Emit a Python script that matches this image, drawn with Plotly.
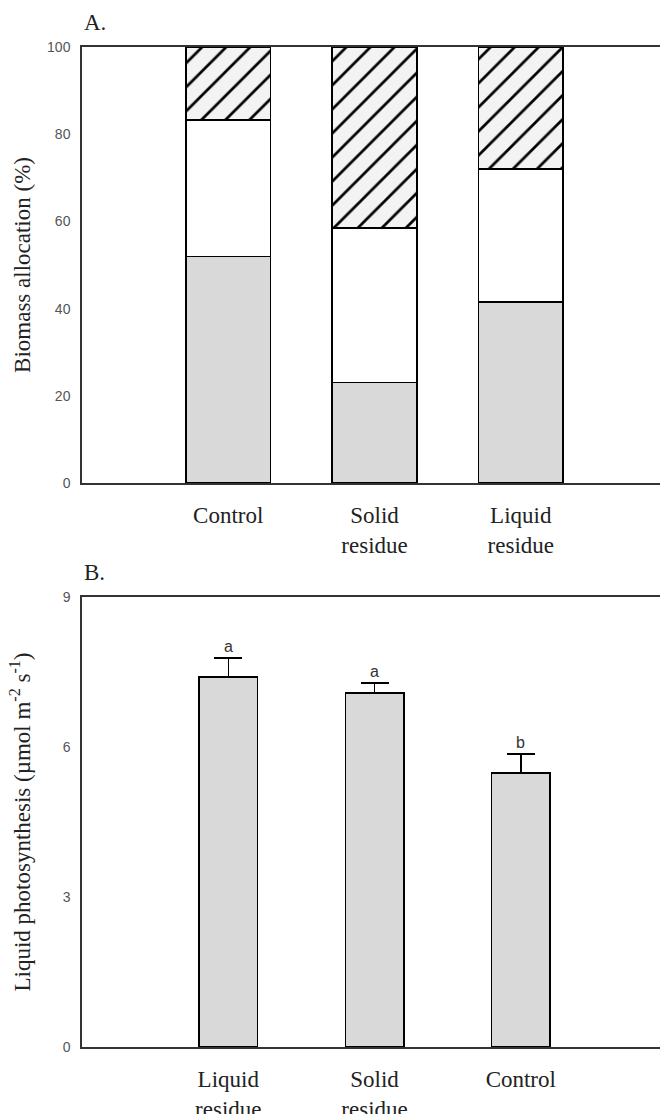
import plotly.graph_objects as go

# ---------------- data ----------------
# Panel A: biomass allocation (%)
alloc_categories = ["Control", "Solid<br>residue", "Liquid<br>residue"]
alloc_gray = [52.0, 23.0, 41.5]        # lower (grey) segment
alloc_white = [31.3, 35.5, 30.5]       # middle (white) segment
alloc_hatched = [16.7, 41.5, 28.0]     # upper (hatched) segment
alloc_ticks = [0, 20, 40, 60, 80, 100]

# Panel B: photosynthesis
photo_categories = ["Liquid<br>residue", "Solid<br>residue", "Control"]
photo_values = [7.40, 7.08, 5.48]
photo_errors = [0.38, 0.20, 0.38]
photo_letters = ["a", "a", "b"]
photo_ticks = [0, 3, 6, 9]

H = 1114.0
positions = [1, 2, 3]

serif = "Liberation Serif, Times New Roman, serif"
sans = "Liberation Sans, Arial, sans-serif"
line_col = "#333333"

fig = go.Figure()

# Panel A stacked bars
fig.add_trace(go.Bar(x=positions, y=alloc_gray, width=0.58, xaxis="x", yaxis="y",
                     marker=dict(color="#d9d9d9", line=dict(color="black", width=1.5)),
                     showlegend=False, hoverinfo="y"))
fig.add_trace(go.Bar(x=positions, y=alloc_white, width=0.58, xaxis="x", yaxis="y",
                     marker=dict(color="white", line=dict(color="black", width=1.5)),
                     showlegend=False, hoverinfo="y"))
fig.add_trace(go.Bar(x=positions, y=alloc_hatched, width=0.58, xaxis="x", yaxis="y",
                     marker=dict(color="#f3f3f3", line=dict(color="black", width=1.5),
                                 pattern=dict(shape="/", fgcolor="#000000", bgcolor="#f3f3f3",
                                              size=17, solidity=0.16, fgopacity=1)),
                     showlegend=False, hoverinfo="y"))

# Panel B bars with upward error bars
fig.add_trace(go.Bar(x=positions, y=photo_values, width=0.40, xaxis="x2", yaxis="y2",
                     marker=dict(color="#d9d9d9", line=dict(color="black", width=1.5)),
                     error_y=dict(type="data", array=photo_errors, arrayminus=[0, 0, 0],
                                  symmetric=False, color="black", thickness=1.5, width=14),
                     showlegend=False, hoverinfo="y"))

annotations = []
for xi, v, e, t in zip(positions, photo_values, photo_errors, photo_letters):
    annotations.append(dict(x=xi, y=v + e, xref="x2", yref="y2", text=t, showarrow=False,
                            yanchor="bottom", yshift=1, font=dict(family=sans, size=16, color="#333")))

annotations.append(dict(x=0, y=1 - 22 / H, xref="paper", yref="paper", text="A.", showarrow=False,
                        xanchor="left", yanchor="middle", font=dict(family=serif, size=23, color="#222")))
annotations.append(dict(x=0, y=1 - 572 / H, xref="paper", yref="paper", text="B.", showarrow=False,
                        xanchor="left", yanchor="middle", font=dict(family=serif, size=23, color="#222")))

xr = [0.0, 3.952]
xcommon = dict(range=xr, tickmode="array", tickvals=positions, showline=True, linecolor=line_col,
               linewidth=1.5, mirror=True, showgrid=False, zeroline=False, ticks="",
               automargin=False,
               ticklabelstandoff=11, tickfont=dict(family=serif, size=23, color="#222"))
ycommon = dict(showline=True, linecolor=line_col, linewidth=1.5, showgrid=False, zeroline=False,
               ticks="", automargin=False,
               ticklabelstandoff=7, tickfont=dict(family=sans, size=14, color="#555"))

fig.update_layout(
    width=660, height=1114,
    margin=dict(l=82, r=0, t=0, b=0, autoexpand=False),
    paper_bgcolor="white", plot_bgcolor="white",
    barmode="stack",
    xaxis=dict(domain=[0, 1], anchor="y", ticktext=alloc_categories, **xcommon),
    yaxis=dict(domain=[1 - 483 / H, 1 - 47 / H], anchor="x", range=[0, 100], tickmode="array",
               tickvals=alloc_ticks,
               title=dict(text="Biomass allocation (%)", standoff=10,
                          font=dict(family=serif, size=23, color="#222")),
               **ycommon),
    xaxis2=dict(domain=[0, 1], anchor="y2", ticktext=photo_categories, **xcommon),
    yaxis2=dict(domain=[1 - 1047 / H, 1 - 597 / H], anchor="x2", range=[0, 9], tickmode="array",
                tickvals=photo_ticks,
                title=dict(text="Liquid photosynthesis (µmol m<sup>-2</sup> s<sup>-1</sup>)", standoff=26,
                           font=dict(family=serif, size=23, color="#222")),
                **ycommon),
    annotations=annotations,
)

fig.write_html("out.html", config={"displayModeBar": False},
               post_script="document.body.style.margin='0px';document.body.style.overflow='hidden';")
